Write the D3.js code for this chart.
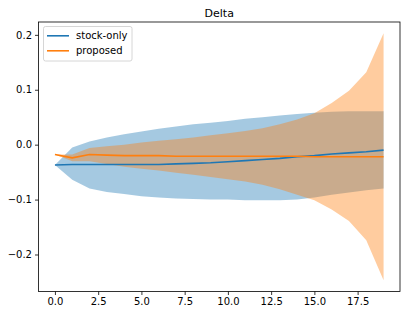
<!DOCTYPE html>
<html>
<head>
<meta charset="utf-8">
<script src="https://cdn.jsdelivr.net/npm/d3@7"></script>
<style>
  body { margin: 0; background: #fff; }
  svg { display: block; font-family: "DejaVu Sans", sans-serif; }
</style>
</head>
<body>
<script>
(function() {

	var width = 407;
	var height = 316;
	var margin = {top: 22, right: 7, bottom: 24.5, left: 38.5};

	// data, one value per step 0..19
	var steps = d3.range(0, 20);
	var stockMean = [-0.037, -0.036, -0.036, -0.036, -0.036, -0.036, -0.036, -0.035, -0.034, -0.033,
		-0.031, -0.029, -0.027, -0.025, -0.022, -0.020, -0.017, -0.015, -0.013, -0.010];
	var stockUpper = [-0.037, -0.005, 0.006, 0.013, 0.019, 0.024, 0.029, 0.033, 0.037, 0.040,
		0.043, 0.047, 0.050, 0.053, 0.056, 0.058, 0.060, 0.061, 0.061, 0.061];
	var stockLower = [-0.037, -0.064, -0.080, -0.086, -0.090, -0.094, -0.096, -0.098, -0.099, -0.100,
		-0.100, -0.101, -0.101, -0.101, -0.100, -0.096, -0.091, -0.087, -0.083, -0.080];
	var propMean = [-0.018, -0.024, -0.018, -0.019, -0.020, -0.020, -0.020, -0.021, -0.021, -0.021,
		-0.021, -0.021, -0.021, -0.021, -0.021, -0.022, -0.022, -0.022, -0.022, -0.022];
	var propUpper = [-0.018, -0.018, -0.006, -0.003, 0.000, 0.004, 0.007, 0.010, 0.013, 0.017,
		0.021, 0.025, 0.030, 0.037, 0.046, 0.057, 0.076, 0.098, 0.132, 0.203];
	var propLower = [-0.018, -0.030, -0.030, -0.035, -0.040, -0.044, -0.047, -0.051, -0.055, -0.059,
		-0.063, -0.067, -0.073, -0.081, -0.091, -0.101, -0.118, -0.139, -0.174, -0.247];

	var xTicks = [0, 2.5, 5, 7.5, 10, 12.5, 15, 17.5];
	var yTicks = [-0.2, -0.1, 0.0, 0.1, 0.2];
	var seriesNames = ['stock-only', 'proposed'];
	var colors = ['#1f77b4', '#ff7f0e'];

	var svg = d3.select('body')
		.append('svg')
			.attr('width', width)
			.attr('height', height);

	var x = d3.scaleLinear()
		.domain([-0.95, 19.95])
		.range([margin.left, width - margin.right]);

	var y = d3.scaleLinear()
		.domain([-0.2674, 0.2234])
		.range([height - margin.bottom, margin.top]);

	var fmt = function(d) { return d3.format('.1f')(d).replace('-', '\u2212'); };

	var bands = [
		{lower: stockLower, upper: stockUpper, color: colors[0]},
		{lower: propLower, upper: propUpper, color: colors[1]}
	];

	bands.forEach(function(b) {
		var a = d3.area()
			.x(function(d) { return x(d); })
			.y0(function(d, i) { return y(b.lower[i]); })
			.y1(function(d, i) { return y(b.upper[i]); });
		svg.append('path')
			.attr('d', a(steps))
			.style('fill', b.color)
			.style('fill-opacity', 0.4);
	});

	[stockMean, propMean].forEach(function(m, k) {
		var line = d3.line()
			.x(function(d) { return x(d); })
			.y(function(d, i) { return y(m[i]); });
		svg.append('path')
			.attr('d', line(steps))
			.style('fill', 'none')
			.style('stroke', colors[k])
			.style('stroke-width', 1.6);
	});

	// axes
	var xAxis = d3.axisBottom(x).tickValues(xTicks).tickSize(3.5).tickPadding(3).tickFormat(fmt);
	var yAxis = d3.axisLeft(y).tickValues(yTicks).tickSize(3.5).tickPadding(3).tickFormat(fmt);

	var gx = svg.append('g')
		.attr('transform', 'translate(0,' + (height - margin.bottom) + ')')
		.call(xAxis);
	var gy = svg.append('g')
		.attr('transform', 'translate(' + margin.left + ',0)')
		.call(yAxis);

	[gx, gy].forEach(function(g) {
		g.select('.domain').remove();
		g.selectAll('line').style('stroke', '#000').style('stroke-width', 0.8);
		g.selectAll('text').style('font-size', '10px').style('fill', '#000')
			.style('font-family', '"DejaVu Sans", sans-serif');
	});

	// frame
	svg.append('rect')
		.attr('x', margin.left)
		.attr('y', margin.top)
		.attr('width', width - margin.left - margin.right)
		.attr('height', height - margin.top - margin.bottom)
		.style('fill', 'none')
		.style('stroke', '#000')
		.style('stroke-width', 0.8);

	svg.append('text')
		.attr('x', (margin.left + width - margin.right) / 2)
		.attr('y', 16.5)
		.attr('text-anchor', 'middle')
		.style('font-size', '11px')
		.text('Delta');

	// legend
	var legend = svg.append('g');
	legend.append('rect')
		.attr('x', 43.5)
		.attr('y', 26.5)
		.attr('width', 88.5)
		.attr('height', 34.5)
		.attr('rx', 2)
		.style('fill', '#fff')
		.style('fill-opacity', 0.8)
		.style('stroke', '#ccc')
		.style('stroke-width', 0.8);

	seriesNames.forEach(function(name, k) {
		var ly = 35.8 + k * 15;
		legend.append('line')
			.attr('x1', 47).attr('x2', 69)
			.attr('y1', ly).attr('y2', ly)
			.style('stroke', colors[k])
			.style('stroke-width', 1.6);
		legend.append('text')
			.attr('x', 76)
			.attr('y', ly + 3.6)
			.style('font-size', '10px')
			.text(name);
	});

})();
</script>
</body>
</html>
